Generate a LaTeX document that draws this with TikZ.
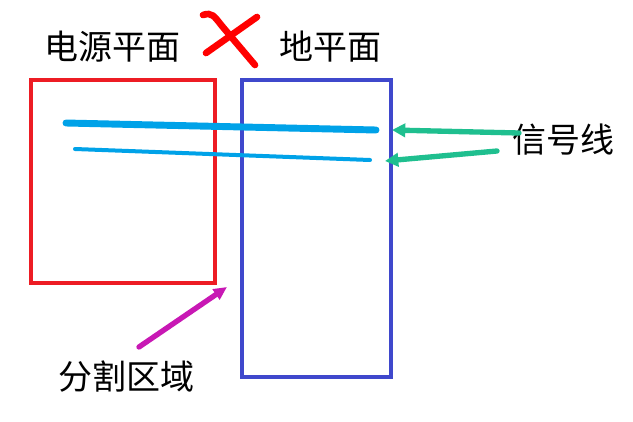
\documentclass[tikz,border=0pt]{standalone}
\usepackage{fontspec}
\usepackage{xcolor}
\usepackage{tikz}
\usetikzlibrary{arrows.meta,calc}
\newfontfamily\cjk{Noto Sans CJK SC}
\definecolor{planered}{HTML}{ED1C24}
\definecolor{planeblue}{HTML}{3F48CC}
\definecolor{signalblue}{HTML}{00A2E8}
\definecolor{arrowgreen}{HTML}{1FBF8F}
\definecolor{arrowpink}{HTML}{C818B4}
\definecolor{crossred}{HTML}{FF0000}

\begin{document}
\begin{tikzpicture}[x=0.75pt,y=-0.75pt,line cap=round,
    lbl/.style={font=\cjk\fontsize{25.5}{28}\selectfont,inner sep=0pt}]
    \useasboundingbox (0,0) rectangle (633,422);
    % planes
    \draw[planered,line width=3pt,line cap=butt] (31,80) rectangle (215,283);
    \draw[planeblue,line width=3pt,line cap=butt] (242,80) rectangle (391,377);
    % signal lines
    \draw[signalblue,line width=5.2pt] (66,123) -- (376,130);
    \draw[signalblue,line width=3pt] (75,149) -- (370,160);
    \coordinate (s1) at (392,130);
    \coordinate (s2) at (385,161);
    % labels
    \node[lbl] (power) at (113,47) {电源平面};
    \node[lbl] (ground) at (330,47) {地平面};
    \node[lbl] (signal) at (563,140) {信号线};
    \node[lbl] (split) at (127,377) {分割区域};
    % cross
    \draw[crossred,line width=5pt] (203,15) .. controls (212,12) and (214,16) .. (222,26) -- (255,65);
    \draw[crossred,line width=5pt] (206,53) -- (257,17);
    % arrows
    \draw[-{Triangle[length=10pt,width=10pt]},arrowgreen,line width=4pt] (519,133) -- (s1);
    \draw[-{Triangle[length=10pt,width=10pt]},arrowgreen,line width=4pt] (497,151) -- (s2);
    \coordinate (gap) at (227,287);
    \draw[-{Triangle[length=10pt,width=9pt]},arrowpink,line width=4pt] (139,347) -- (gap);
\end{tikzpicture}
\end{document}
